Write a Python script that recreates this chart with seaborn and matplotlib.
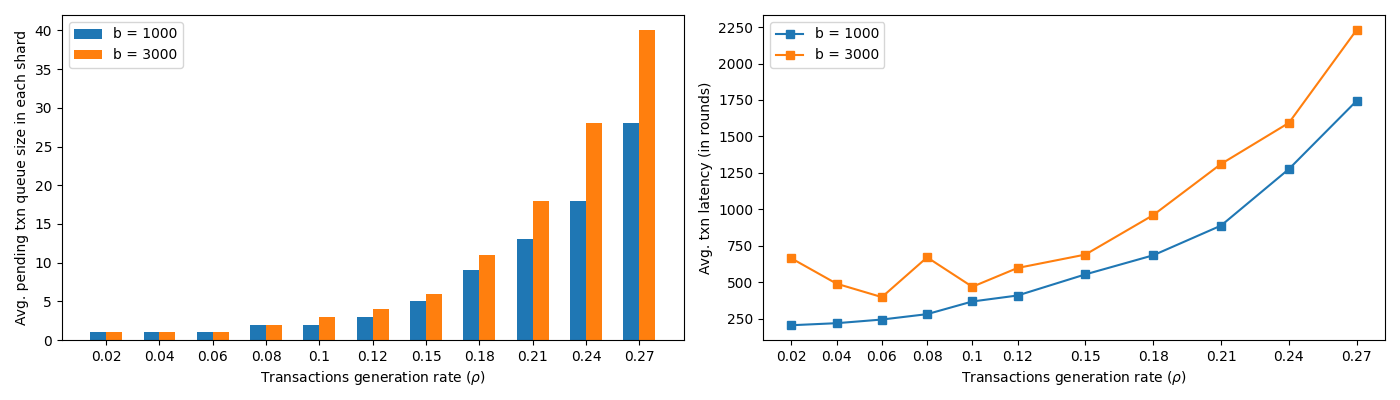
import pandas as pd
import numpy as np
import matplotlib
matplotlib.use("Agg")
import matplotlib.pyplot as plt
import seaborn as sns

# Dữ liệu
rates = [0.02, 0.04, 0.06, 0.08, 0.1, 0.12, 0.15, 0.18, 0.21, 0.24, 0.27]
rate_labels = ['0.02', '0.04', '0.06', '0.08', '0.1', '0.12', '0.15', '0.18', '0.21', '0.24', '0.27']
series_names = ['b = 1000', 'b = 3000']

queue_b1000 = [1, 1, 1, 2, 2, 3, 5, 9, 13, 18, 28]
queue_b3000 = [1, 1, 1, 2, 3, 4, 6, 11, 18, 28, 40]

latency_b1000 = [204, 218, 243, 280, 367, 408, 553, 684, 888, 1276, 1745]
latency_b3000 = [663, 489, 397, 670, 468, 597, 689, 960, 1311, 1593, 2232]

colors = ['#1f77b4', '#ff7f0e']

df_queue = pd.DataFrame({
    'rate': rate_labels * 2,
    'value': queue_b1000 + queue_b3000,
    'b': [series_names[0]] * len(rates) + [series_names[1]] * len(rates),
})
df_lat = pd.DataFrame({
    'rate': rates * 2,
    'value': latency_b1000 + latency_b3000,
    'b': [series_names[0]] * len(rates) + [series_names[1]] * len(rates),
})

fig, axes = plt.subplots(1, 2, figsize=(14, 4), dpi=100)

# Biểu đồ cột
ax = axes[0]
sns.barplot(data=df_queue, x='rate', y='value', hue='b', order=rate_labels,
            hue_order=series_names, palette=colors, width=0.6, saturation=1,
            gap=0, linewidth=0, ax=ax)
ax.set_xlim(-0.83, 10.83)
ax.set_ylim(0, 42)
ax.set_xlabel(r'Transactions generation rate ($\rho$)')
ax.set_ylabel('Avg. pending txn queue size in each shard')
sns.move_legend(ax, 'upper left', title=None)

# Biểu đồ đường
ax = axes[1]
sns.lineplot(data=df_lat, x='rate', y='value', hue='b', hue_order=series_names,
             palette=colors, marker='s', markersize=6, markeredgewidth=1,
             linewidth=1.5, legend=False, ax=ax)
for line in ax.get_lines():
    line.set_markeredgecolor(line.get_color())
ax.legend(ax.get_lines(), series_names, loc='upper left')
ax.set_xticks(rates)
ax.set_xticklabels(rate_labels)
ax.set_xlabel(r'Transactions generation rate ($\rho$)')
ax.set_ylabel('Avg. txn latency (in rounds)')

plt.tight_layout()
plt.subplots_adjust(bottom=0.15)
plt.savefig('out.png', dpi=100)
plt.close()
